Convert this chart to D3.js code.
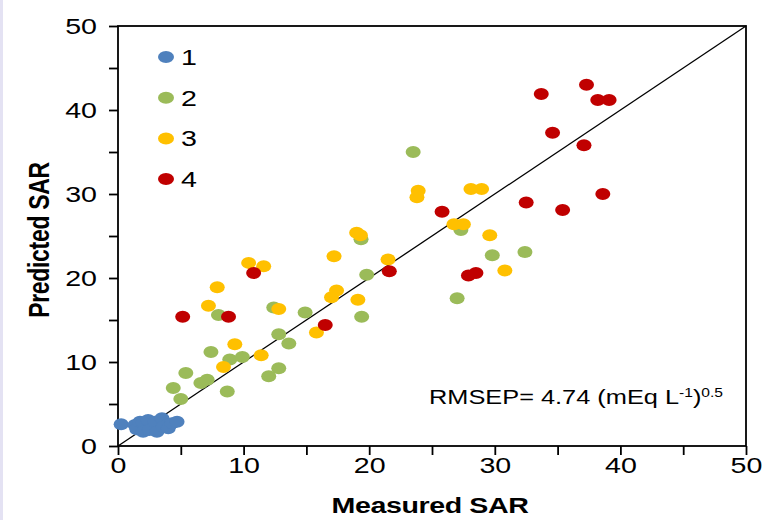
<!DOCTYPE html>
<html>
<head>
<meta charset="utf-8">
<script src="https://cdn.jsdelivr.net/npm/d3@7"></script>
<style>
  html, body { margin: 0; padding: 0; background: #ffffff; }
  svg { display: block; }
  text { font-family: "Liberation Sans", Arial, sans-serif; fill: #000; }
</style>
</head>
<body>
<div id="chart"></div>
<script>
// ---- data ----
const seriesNames = ["1", "2", "3", "4"];
const seriesColors = ["#4F81BD", "#9BBB59", "#FFC000", "#C00000"];

const s1x = [0.25, 1.35, 1.5, 1.75, 2.0, 2.0, 2.4, 2.5, 2.95, 3.1, 3.5, 3.6, 4.0, 4.3, 4.7];
const s1y = [2.6, 2.5, 2.0, 2.9, 2.8, 1.7, 3.1, 1.9, 2.9, 1.7, 3.3, 2.3, 2.1, 2.7, 2.9];

const s2x = [4.4, 5.0, 5.4, 6.6, 7.1, 7.4, 8.0, 8.7, 8.9, 9.9, 12.0, 12.4, 12.8, 12.8, 13.6, 14.9, 19.35, 19.4, 19.8, 23.5, 27.0, 27.3, 29.8, 32.4];
const s2y = [6.9, 5.6, 8.7, 7.5, 7.9, 11.2, 15.6, 6.5, 10.3, 10.6, 8.3, 16.5, 13.3, 9.25, 12.2, 15.9, 24.6, 15.4, 20.4, 35.0, 17.6, 25.7, 22.7, 23.1];

const s3x = [7.2, 7.9, 8.4, 9.3, 10.4, 11.4, 11.6, 12.8, 15.8, 17.0, 17.2, 17.4, 19.0, 19.1, 19.3, 21.5, 23.8, 23.9, 26.75, 27.5, 28.1, 28.95, 29.6, 30.8];
const s3y = [16.7, 18.9, 9.4, 12.1, 21.8, 10.8, 21.4, 16.3, 13.5, 17.7, 22.6, 18.5, 25.4, 17.4, 25.1, 22.2, 29.6, 30.4, 26.4, 26.4, 30.6, 30.6, 25.1, 20.9];

const s4x = [5.15, 8.8, 10.8, 16.5, 21.6, 25.8, 27.9, 28.5, 32.5, 33.7, 34.6, 35.4, 37.1, 37.3, 38.2, 38.6, 39.1];
const s4y = [15.4, 15.4, 20.6, 14.4, 20.8, 27.9, 20.3, 20.6, 29.0, 41.9, 37.3, 28.1, 35.8, 43.0, 41.2, 30.0, 41.2];

const xTicks = [0, 10, 20, 30, 40, 50];
const yTicks = [0, 10, 20, 30, 40, 50];
const minorTicks = [0, 5, 10, 15, 20, 25, 30, 35, 40, 45, 50];
const xTitle = "Measured SAR";
const yTitle = "Predicted SAR";
const rmsepLabel = "RMSEP= 4.74 (mEq L";

const series = [
  { name: seriesNames[0], color: seriesColors[0], xs: s1x, ys: s1y },
  { name: seriesNames[1], color: seriesColors[1], xs: s2x, ys: s2y },
  { name: seriesNames[2], color: seriesColors[2], xs: s3x, ys: s3y },
  { name: seriesNames[3], color: seriesColors[3], xs: s4x, ys: s4y }
];

// ---- layout ----
const W = 779, H = 520;
const mLeft = 118, mRight = 746, mTop = 26, mBottom = 446;
const SX = 1.3; // horizontal stretch of the original picture

const svg = d3.select("#chart").append("svg")
  .attr("width", W).attr("height", H);

// faint page edge on the left
svg.append("rect").attr("x", 0).attr("y", 0).attr("width", 3).attr("height", H)
  .attr("fill", "#e4e2f3");

const x = d3.scaleLinear().domain([0, 50]).range([mLeft, mRight]);
const y = d3.scaleLinear().domain([0, 50]).range([mBottom, mTop]);

// axes
const xAxis = d3.axisBottom(x).tickValues(minorTicks).tickSize(9)
  .tickFormat(d => xTicks.includes(d) ? d : "");
const yAxis = d3.axisLeft(y).tickValues(minorTicks).tickSize(9)
  .tickFormat(d => yTicks.includes(d) ? d : "");

const gx = svg.append("g").attr("transform", `translate(0,${mBottom})`).call(xAxis);
const gy = svg.append("g").attr("transform", `translate(${mLeft},0)`).call(yAxis);

[gx, gy].forEach(g => {
  g.select(".domain").remove();
  g.selectAll(".tick line").attr("stroke", "#000").attr("stroke-width", 1.8);
  g.selectAll(".tick text").style("font-size", "22px")
    .style("font-family", "'Liberation Sans', Arial, sans-serif").attr("fill", "#000")
    .attr("transform", `scale(${SX},1)`);
});
gx.selectAll(".tick text").attr("dy", "0.71em").attr("y", 11).attr("x", 0);
gy.selectAll(".tick text").attr("x", -21 / SX).attr("dy", "0.36em");

// frame
svg.append("rect").attr("x", mLeft).attr("y", mTop)
  .attr("width", mRight - mLeft).attr("height", mBottom - mTop)
  .attr("fill", "none").attr("stroke", "#000").attr("stroke-width", 1.8);

// 1:1 line
svg.append("line")
  .attr("x1", x(0)).attr("y1", y(0)).attr("x2", x(50)).attr("y2", y(50))
  .attr("stroke", "#000").attr("stroke-width", 1.3);

// points
series.forEach(s => {
  svg.append("g").selectAll("ellipse")
    .data(s.xs.map((v, i) => [v, s.ys[i]]))
    .join("ellipse")
    .attr("cx", d => x(d[0])).attr("cy", d => y(d[1]))
    .attr("rx", 7.5).attr("ry", 6)
    .attr("fill", s.color);
});

// legend
const lg = svg.append("g");
series.forEach((s, i) => {
  const cy = 57 + i * 40.7;
  lg.append("ellipse").attr("cx", 166).attr("cy", cy).attr("rx", 8).attr("ry", 6)
    .attr("fill", s.color);
  lg.append("text").attr("transform", `translate(181,${cy}) scale(${SX},1)`)
    .attr("dy", "0.36em")
    .style("font-size", "22px").text(s.name);
});

// RMSEP annotation
const t = svg.append("text").attr("transform", `translate(429,404) scale(${SX},1)`)
  .style("font-size", "19.5px");
t.append("tspan").text(rmsepLabel);
t.append("tspan").attr("dy", -7).style("font-size", "12px").text("-1");
t.append("tspan").attr("dy", 7).text(")");
t.append("tspan").attr("dy", -7).style("font-size", "12px").text("0.5");

// axis titles
svg.append("text")
  .attr("transform", `translate(${(mLeft + mRight) / 2 - 2},513) scale(${SX},1)`)
  .attr("text-anchor", "middle")
  .style("font-size", "22px").style("font-weight", "bold").style("letter-spacing", "-0.3px")
  .text(xTitle);
svg.append("text")
  .attr("transform", `translate(49,240) rotate(-90) scale(1,${SX})`)
  .attr("text-anchor", "middle")
  .style("font-size", "23px").style("font-weight", "bold").style("letter-spacing", "-0.3px")
  .text(yTitle);
</script>
</body>
</html>
